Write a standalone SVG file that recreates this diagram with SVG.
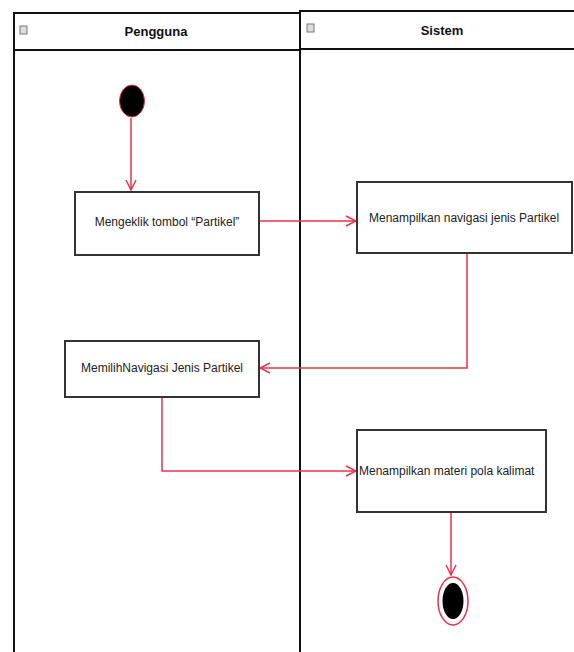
<svg xmlns="http://www.w3.org/2000/svg" width="574" height="652" viewBox="0 0 574 652">
<defs>
<style>
.lane{fill:#fff;stroke:#111;stroke-width:2}
.hdr{font-family:"Liberation Sans",Arial,sans-serif;font-size:13px;font-weight:bold;fill:#111;text-anchor:middle}
.box{fill:#fff;stroke:#333;stroke-width:2}
.lbl{font-family:"Liberation Sans",Arial,sans-serif;font-size:12px;fill:#222}
.ctr{text-anchor:middle}
.edge{fill:none;stroke:#e8334a;stroke-width:1.5}
.icon{fill:#ddd;stroke:#777;stroke-width:1}
</style>
<marker id="arr" viewBox="0 0 12 12" refX="11" refY="6" markerWidth="12" markerHeight="12" markerUnits="userSpaceOnUse" orient="auto">
<path d="M1,1 L11,6 L1,11" fill="none" stroke="#e8334a" stroke-width="1.5"/>
</marker>
</defs>
<rect width="574" height="652" fill="#fff"/>
<g id="lane-pengguna">
<rect class="lane" x="14" y="13" width="286" height="660"/>
<line x1="14" y1="50" x2="300" y2="50" stroke="#111" stroke-width="2"/>
<rect class="icon" x="20" y="26" width="7" height="8"/>
<text class="hdr" x="156" y="36">Pengguna</text>
</g>
<g id="lane-sistem">
<rect class="lane" x="300" y="11" width="290" height="660"/>
<line x1="300" y1="49" x2="574" y2="49" stroke="#111" stroke-width="2"/>
<rect class="icon" x="307" y="24" width="7" height="8"/>
<text class="hdr" x="442" y="35">Sistem</text>
</g>
<g id="connectors">
<line class="edge" x1="131" y1="118" x2="131" y2="190" marker-end="url(#arr)"/>
<line class="edge" x1="259" y1="221" x2="356" y2="221" marker-end="url(#arr)"/>
<polyline class="edge" points="467,253 467,368 260,368" marker-end="url(#arr)"/>
<polyline class="edge" points="162,397 162,471 356,471" marker-end="url(#arr)"/>
<line class="edge" x1="451" y1="512" x2="451" y2="575" marker-end="url(#arr)"/>
</g>
<g id="start">
<ellipse cx="132" cy="101" rx="12.5" ry="16" fill="#000" stroke="#e8334a" stroke-width="1"/>
</g>
<g id="n1">
<rect class="box" x="75" y="192" width="184" height="63"/>
<text class="lbl ctr" x="167" y="226">Mengeklik tombol “Partikel”</text>
</g>
<g id="n2">
<rect class="box" x="357" y="182" width="215" height="71"/>
<text class="lbl" x="369" y="222">Menampilkan navigasi jenis Partikel</text>
</g>
<g id="n3">
<rect class="box" x="65" y="341" width="194" height="56"/>
<text class="lbl ctr" x="162" y="372">MemilihNavigasi Jenis Partikel</text>
</g>
<g id="n4">
<rect class="box" x="357" y="430" width="189" height="82"/>
<text class="lbl" x="359" y="475">Menampilkan materi pola kalimat</text>
</g>
<g id="end">
<ellipse cx="453" cy="601" rx="15" ry="24" fill="#fff" stroke="#e8334a" stroke-width="1.5"/>
<ellipse cx="453" cy="601" rx="10.5" ry="18" fill="#000"/>
</g>
</svg>
